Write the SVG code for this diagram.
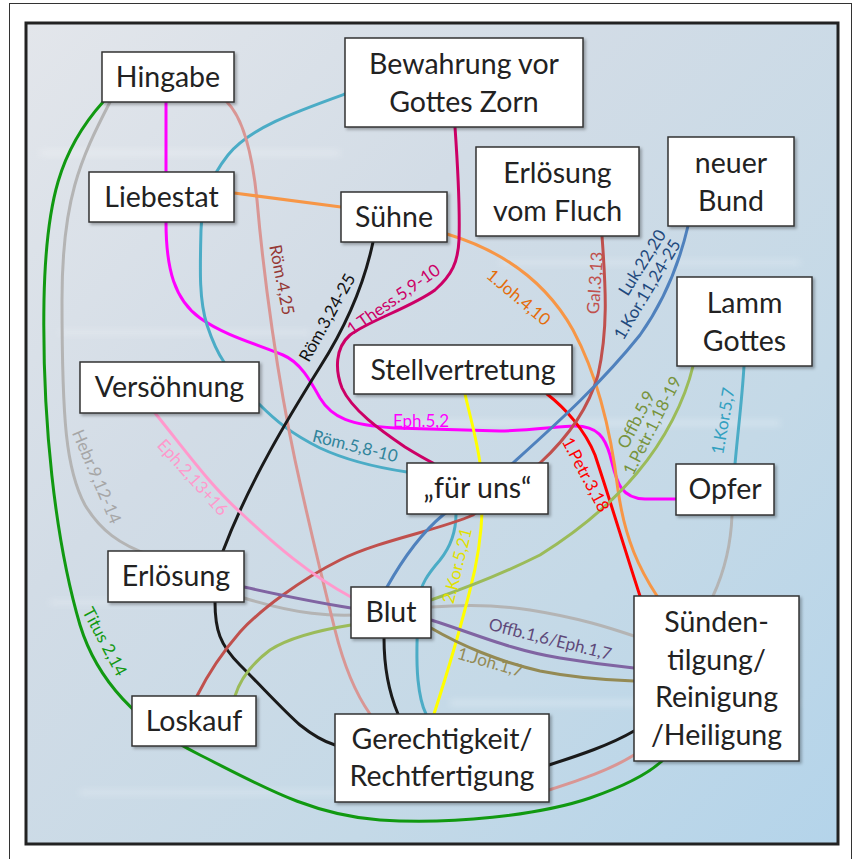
<svg xmlns="http://www.w3.org/2000/svg" width="852" height="859" viewBox="0 0 852 859">
<defs>
<linearGradient id="bg" x1="0" y1="0" x2="1" y2="1">
<stop offset="0" stop-color="#e3e6eb"/>
<stop offset="0.35" stop-color="#d2dce6"/>
<stop offset="0.7" stop-color="#c4d9e7"/>
<stop offset="1" stop-color="#b4d4ea"/>
</linearGradient>
<filter id="sh" x="-10%" y="-10%" width="130%" height="130%">
<feDropShadow dx="2" dy="2" stdDeviation="1.8" flood-color="#000" flood-opacity="0.3"/>
</filter>
<filter id="blur"><feGaussianBlur stdDeviation="3"/></filter>
</defs>
<style>
.box{fill:#fff;stroke:#333;stroke-width:1.5;filter:url(#sh)}
.nt{font-family:Lato,"Open Sans","Liberation Sans",sans-serif;font-size:28.5px;fill:#222;text-anchor:middle}
.c{fill:none;stroke-width:3;stroke-linecap:round}
.lb{font-family:Lato,"Open Sans","Liberation Sans",sans-serif;font-size:17px;text-anchor:middle}
</style>
<rect x="0" y="0" width="852" height="859" fill="#fff"/>
<rect x="9.5" y="3.5" width="842" height="860" fill="none" stroke="#333" stroke-width="1"/>
<rect x="26" y="23" width="812" height="821" fill="url(#bg)"/>
<g filter="url(#blur)" fill="#fff" opacity="0.25">
<rect x="40" y="150" width="300" height="6"/>
<rect x="60" y="330" width="250" height="5"/>
<rect x="400" y="420" width="380" height="6"/>
<rect x="50" y="600" width="200" height="5"/>
<rect x="450" y="700" width="350" height="6"/>
<rect x="80" y="790" width="400" height="5"/>
<rect x="500" y="260" width="300" height="5"/>
</g>
<rect x="26" y="23" width="812" height="821" fill="none" stroke="#222" stroke-width="3"/>

<g id="connectors">
<path class="c" stroke="#119911" d="M103,102 C60,150 46,200 44,300 C42,420 55,540 80,625 C100,690 150,730 200,755 C260,785 310,815 380,820 C450,825 540,815 590,798 C625,786 650,772 662,761"/>
<path class="c" stroke="#b4b4b4" stroke-width="3.5" d="M110,102 C80,160 62,200 62,300 C62,420 66,470 85,505 C100,530 120,545 150,555"/>
<path class="c" stroke="#b4b4b4" stroke-width="3.5" d="M244,598 C290,612 330,620 390,612 C430,606 480,602 530,610 C580,618 610,628 634,636"/>
<path class="c" stroke="#b4b4b4" stroke-width="3.5" d="M732,515 C731,545 725,570 713,596"/>
<path class="c" stroke="#ff00ff" d="M166,102 L166,172"/>
<path class="c" stroke="#ff00ff" d="M166,222 C166,270 175,300 200,318 C225,336 260,345 283,355 C300,362 310,380 320,398 C332,418 350,425 395,428 L500,431 C530,431 560,426 575,426 C598,426 605,438 610,455 C616,478 618,498 645,499 L676,499"/>
<path class="c" stroke="#4bacc6" d="M345,94 C295,112 250,128 228,155 C210,178 202,200 201,230 C200,270 199,300 207,325 C212,340 217,352 224,362"/>
<path class="c" stroke="#4bacc6" d="M259,404 C275,420 290,433 320,448 C350,462 380,468 407,472"/>
<path class="c" stroke="#4bacc6" d="M456,514 C456,530 452,545 440,560 C428,574 420,585 419,600 C417,630 416,660 418,680 C420,700 424,710 426,714"/>
<path class="c" stroke="#d99694" d="M227,102 C243,118 252,150 257,200 C264,280 278,380 295,460 C308,520 320,570 335,630 C345,670 358,697 370,714"/>
<path class="c" stroke="#d99694" d="M549,790 C580,780 610,770 634,755"/>
<path class="c" stroke="#f79646" d="M234,193 L341,207"/>
<path class="c" stroke="#f79646" d="M447,234 C500,250 545,280 573,330 C600,380 612,440 618,490 C625,540 640,570 657,596"/>
<path class="c" stroke="#cc0066" d="M455,127 C458,170 460,210 459,240 C458,262 452,275 435,290 C410,308 370,320 350,335 C335,348 335,370 342,388 C352,410 380,430 405,447 C418,455 427,460 433,463"/>
<path class="c" stroke="#1a1a1a" d="M373,242 C365,280 350,320 320,367 C290,415 250,480 223,551"/>
<path class="c" stroke="#1a1a1a" d="M215,602 C215,630 220,645 240,665 C265,690 285,712 300,725 C315,737 325,742 335,745"/>
<path class="c" stroke="#1a1a1a" d="M384,638 C384,670 390,695 398,714"/>
<path class="c" stroke="#1a1a1a" d="M549,765 C580,755 610,745 634,731"/>
<path class="c" stroke="#ffff00" d="M465,394 C472,425 480,450 482,480 C484,520 478,560 470,590 C460,630 445,680 434,714"/>
<path class="c" stroke="#ff0000" d="M547,394 C565,408 585,430 595,455 C610,500 625,550 640,596"/>
<path class="c" stroke="#c0504d" d="M602,236 C606,290 608,330 598,375 C588,410 565,440 540,463 L473,515 C440,530 380,540 340,560 C300,580 260,610 240,632 C220,655 205,680 197,696"/>
<path class="c" stroke="#4f81bd" d="M688,226 C680,260 665,300 640,335 C600,385 555,425 513,463 L443,515 C425,530 405,555 387,587"/>
<path class="c" stroke="#9bbb59" d="M693,366 C685,400 665,440 637,473 C610,505 580,530 540,555 C500,575 460,590 431,600"/>
<path class="c" stroke="#9bbb59" d="M351,625 C320,630 290,637 270,650 C250,665 240,680 235,696"/>
<path class="c" stroke="#ff99cc" d="M155,413 C185,450 210,485 240,512 C275,545 310,575 351,597"/>
<path class="c" stroke="#8064a2" d="M244,587 C280,595 320,603 351,608"/>
<path class="c" stroke="#8064a2" d="M431,620 C470,632 510,650 560,658 C590,663 615,666 634,668"/>
<path class="c" stroke="#948a54" d="M431,628 C460,645 500,662 540,671 C575,678 605,680 634,681"/>
<path class="c" stroke="#4bacc6" d="M744,366 C742,400 738,430 735,464"/>
</g>

<g id="labels">
<text class="lb" font-size="16" fill="#119911" transform="translate(104,642) rotate(62)" y="5">Titus 2,14</text>
<text class="lb" fill="#a6a6a6" transform="translate(96,477) rotate(67)" y="5">Hebr.9,12-14</text>
<text class="lb" fill="#ff00ff" x="421" y="427">Eph.5,2</text>
<text class="lb" fill="#31849b" transform="translate(355,447) rotate(14)" y="5">Röm.5,8-10</text>
<text class="lb" fill="#953734" transform="translate(281,280) rotate(79)" y="5">Röm.4,25</text>
<text class="lb" fill="#e46c0a" transform="translate(518,298) rotate(40)" y="5">1.Joh.4,10</text>
<text class="lb" fill="#cc0066" transform="translate(394,300) rotate(-35)" y="5">1.Thess.5,9-10</text>
<text class="lb" fill="#111" transform="translate(328,318) rotate(-61)" y="5">Röm.3,24-25</text>
<text class="lb" font-size="16" fill="#e0e000" transform="translate(458,566) rotate(-76)" y="5">2.Kor.5,21</text>
<text class="lb" fill="#ff0000" transform="translate(585,475) rotate(62)" y="5">1.Petr.3,18</text>
<text class="lb" fill="#c0504d" transform="translate(596,283) rotate(-86)" y="5">Gal.3,13</text>
<text class="lb" fill="#1f497d" transform="translate(643,263) rotate(-58)" y="5">Luk.22,20</text>
<text class="lb" fill="#1f497d" transform="translate(648,290) rotate(-59)" y="5">1.Kor.11,24-25</text>
<text class="lb" fill="#77933c" transform="translate(637,420) rotate(-63)" y="5">Offb.5,9</text>
<text class="lb" fill="#77933c" transform="translate(653,426) rotate(-63)" y="5">1.Petr.1,18-19</text>
<text class="lb" font-size="16" fill="#31a0c0" transform="translate(724,421) rotate(-80)" y="5">1.Kor.5,7</text>
<text class="lb" fill="#ff99cc" transform="translate(192,478) rotate(48)" y="5">Eph.2,13+16</text>
<text class="lb" fill="#5f497a" transform="translate(550,640) rotate(14)" y="5">Offb.1,6/Eph.1,7</text>
<text class="lb" font-size="16" fill="#948a54" transform="translate(490,663) rotate(16)" y="5">1.Joh.1,7</text>
</g>

<g id="n-hingabe"><rect class="box" x="102" y="52" width="132" height="50"/><text class="nt" x="168" y="87">Hingabe</text></g>
<g id="n-liebestat"><rect class="box" x="89" y="172" width="145" height="50"/><text class="nt" x="161.5" y="207">Liebestat</text></g>
<g id="n-bewahrung"><rect class="box" x="345" y="38" width="238" height="89"/><text class="nt" x="464" y="74">Bewahrung vor</text><text class="nt" x="464" y="112">Gottes Zorn</text></g>
<g id="n-suehne"><rect class="box" x="341" y="192" width="106" height="50"/><text class="nt" x="394" y="227">Sühne</text></g>
<g id="n-fluch"><rect class="box" x="476" y="147" width="163" height="89"/><text class="nt" x="557.5" y="183">Erlösung</text><text class="nt" x="557.5" y="221">vom Fluch</text></g>
<g id="n-bund"><rect class="box" x="668" y="137" width="126" height="89"/><text class="nt" x="731" y="173">neuer</text><text class="nt" x="731" y="211">Bund</text></g>
<g id="n-lamm"><rect class="box" x="677" y="277" width="135" height="89"/><text class="nt" x="744.5" y="313">Lamm</text><text class="nt" x="744.5" y="351">Gottes</text></g>
<g id="n-stellvertretung"><rect class="box" x="354" y="345" width="218" height="49"/><text class="nt" x="463" y="380">Stellvertretung</text></g>
<g id="n-versoehnung"><rect class="box" x="80" y="362" width="179" height="51"/><text class="nt" x="169.5" y="397">Versöhnung</text></g>
<g id="n-fueruns"><rect class="box" x="407" y="463" width="141" height="51"/><text class="nt" x="477.5" y="498">„für uns“</text></g>
<g id="n-opfer"><rect class="box" x="676" y="464" width="98" height="51"/><text class="nt" x="725" y="499">Opfer</text></g>
<g id="n-erloesung"><rect class="box" x="108" y="551" width="136" height="51"/><text class="nt" x="176" y="586">Erlösung</text></g>
<g id="n-blut"><rect class="box" x="351" y="587" width="80" height="51"/><text class="nt" x="391" y="622">Blut</text></g>
<g id="n-loskauf"><rect class="box" x="132" y="696" width="124" height="50"/><text class="nt" x="194" y="731">Loskauf</text></g>
<g id="n-gerechtigkeit"><rect class="box" x="335" y="714" width="214" height="88"/><text class="nt" x="442" y="749">Gerechtigkeit/</text><text class="nt" x="442" y="786">Rechtfertigung</text></g>
<g id="n-suendentilgung"><rect class="box" x="634" y="596" width="165" height="165"/><text class="nt" x="716.5" y="632">Sünden-</text><text class="nt" x="716.5" y="670">tilgung/</text><text class="nt" x="716.5" y="707">Reinigung</text><text class="nt" x="716.5" y="745">/Heiligung</text></g>
</svg>
